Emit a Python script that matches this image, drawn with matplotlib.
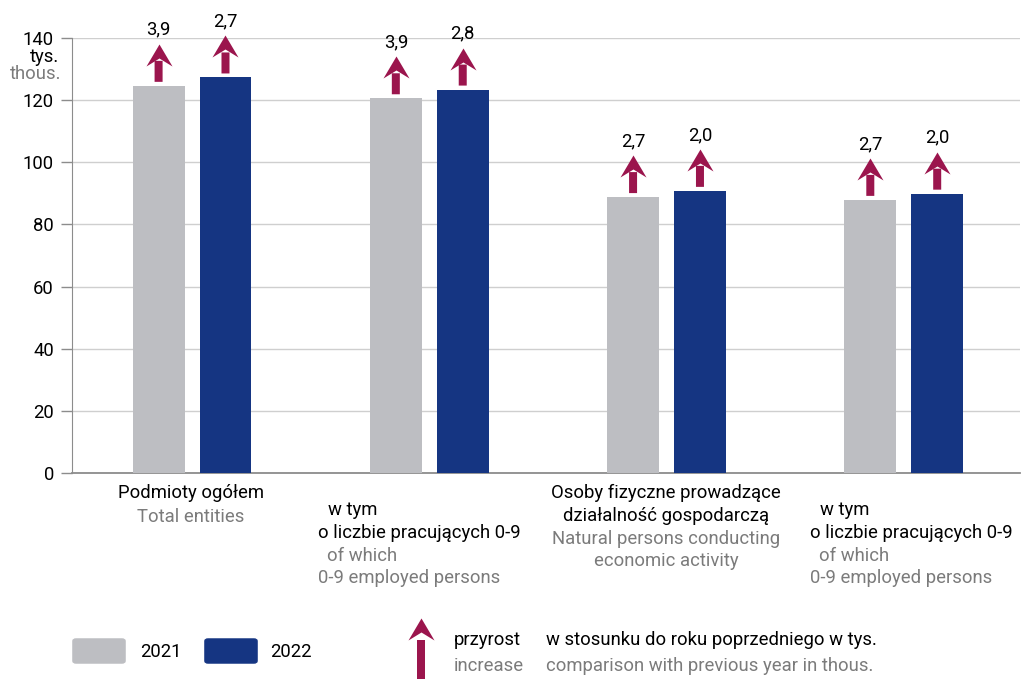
import matplotlib
matplotlib.use('Agg')
import matplotlib.pyplot as plt
from matplotlib.path import Path
from matplotlib.patches import FancyBboxPatch
import matplotlib.transforms as mtransforms

plt.rcParams['font.family'] = ['Roboto', 'DejaVu Sans']

# data
years = ['2021', '2022']
values_2021 = [124.6, 120.6, 88.8, 87.9]
values_2022 = [127.3, 123.4, 90.8, 89.9]
incr_2021 = ['3,9', '3,9', '2,7', '2,7']
incr_2022 = ['2,7', '2,8', '2,0', '2,0']
yticks = [0, 20, 40, 60, 80, 100, 120, 140]

GRAY = '#bdbec2'
BLUE = '#153582'
MAROON = '#9b154d'
TXT_GRAY = '#7b7b7b'

W, H = 1024, 679
fig = plt.figure(figsize=(W / 100, H / 100), dpi=100)
ax = fig.add_axes([72 / W, 1 - 473 / H, (1020 - 72) / W, (473 - 38) / H])

def fx(x):
    return x / W

def fy(y):
    return 1 - y / H

PT = 0.72  # points per pixel at dpi 100
fs = 13.3

x = list(range(len(values_2021)))
bw = 0.219
off = 0.141
ax.bar([i - off for i in x], values_2021, bw, color=GRAY, zorder=3)
ax.bar([i + off for i in x], values_2022, bw, color=BLUE, zorder=3)

ax.set_xlim(-0.506, 3.49)
ax.set_ylim(0, 140)
ax.set_yticks(yticks)
ax.set_xticks([])
ax.tick_params(axis='y', length=8, width=1, color='#8c8c8c', labelsize=fs, pad=5)
ax.grid(axis='y', color='#cfcfcf', lw=1, zorder=0)
for s in ['top', 'right']:
    ax.spines[s].set_visible(False)
ax.spines['left'].set_color('#8c8c8c')
ax.spines['bottom'].set_color('#8c8c8c')
ax.spines['bottom'].set_linewidth(1.3)

# arrow head marker (tip up, notched base)
head = Path([(0, 11), (13, -11), (0, -3), (-13, -11), (0, 11)],
            [Path.MOVETO, Path.LINETO, Path.LINETO, Path.LINETO, Path.CLOSEPOLY])

def arrow(xc, v, label):
    ax.annotate('', xy=(xc, v), xycoords='data',
                xytext=(0, 25 * PT), textcoords='offset points',
                arrowprops=dict(arrowstyle='-', lw=8 * PT, color=MAROON,
                                capstyle='butt', shrinkA=0, shrinkB=4 * PT))
    tr = mtransforms.offset_copy(ax.transData, fig=fig, x=0, y=31, units='dots')
    ax.plot([xc], [v], marker=head, markersize=26 * PT, color=MAROON,
            markeredgewidth=0, transform=tr, clip_on=False, zorder=4)
    ax.annotate(label, (xc, v), xytext=(0, 56 * PT), textcoords='offset points',
                ha='center', va='center', fontsize=fs)

for i in x:
    arrow(i - off, values_2021[i], incr_2021[i])
    arrow(i + off, values_2022[i], incr_2022[i])

# unit label
fig.text(fx(59), fy(57), 'tys.', ha='right', va='center', fontsize=fs)
fig.text(fx(61), fy(74), 'thous.', ha='right', va='center', fontsize=fs, color=TXT_GRAY)

# category labels
fig.text(fx(191), fy(493), 'Podmioty ogółem', ha='center', va='center', fontsize=fs)
fig.text(fx(191), fy(517), 'Total entities', ha='center', va='center', fontsize=fs, color=TXT_GRAY)

for left in (318, 810):
    fig.text(fx(left + 10), fy(510), 'w tym', ha='left', va='center', fontsize=fs)
    fig.text(fx(left), fy(533), 'o liczbie pracujących 0-9', ha='left', va='center', fontsize=fs)
    fig.text(fx(left + 9), fy(556), 'of which', ha='left', va='center', fontsize=fs, color=TXT_GRAY)
    fig.text(fx(left), fy(578), '0-9 employed persons', ha='left', va='center', fontsize=fs, color=TXT_GRAY)

fig.text(fx(666), fy(493), 'Osoby fizyczne prowadzące', ha='center', va='center', fontsize=fs)
fig.text(fx(666), fy(516), 'działalność gospodarczą', ha='center', va='center', fontsize=fs)
fig.text(fx(666), fy(539), 'Natural persons conducting', ha='center', va='center', fontsize=fs, color=TXT_GRAY)
fig.text(fx(666), fy(561), 'economic activity', ha='center', va='center', fontsize=fs, color=TXT_GRAY)

# legend
for (x0, col, yr, tx) in [(73, GRAY, years[0], 140), (205, BLUE, years[1], 270)]:
    fig.patches.append(FancyBboxPatch((fx(x0 + 3), fy(661)), fx(46), 20 / H,
                                      boxstyle='round,pad=0.003', color=col,
                                      transform=fig.transFigure, figure=fig))
    fig.text(fx(tx), fy(652), yr, ha='left', va='center', fontsize=fs)

fig.lines.append(plt.Line2D([fx(421), fx(421)], [fy(640), 0], lw=8 * PT, color=MAROON,
                            solid_capstyle='butt', transform=fig.transFigure))
fig.lines.append(plt.Line2D([fx(421)], [fy(629)], marker=head, markersize=26 * PT,
                            markeredgewidth=0, color=MAROON, transform=fig.transFigure))
fig.text(fx(454), fy(640), 'przyrost', ha='left', va='center', fontsize=fs)
fig.text(fx(454), fy(666), 'increase', ha='left', va='center', fontsize=fs, color=TXT_GRAY)
fig.text(fx(546), fy(640), 'w stosunku do roku poprzedniego w tys.', ha='left', va='center', fontsize=fs)
fig.text(fx(546), fy(666), 'comparison with previous year in thous.', ha='left', va='center',
         fontsize=fs, color=TXT_GRAY)

fig.savefig('out.png', dpi=100)
